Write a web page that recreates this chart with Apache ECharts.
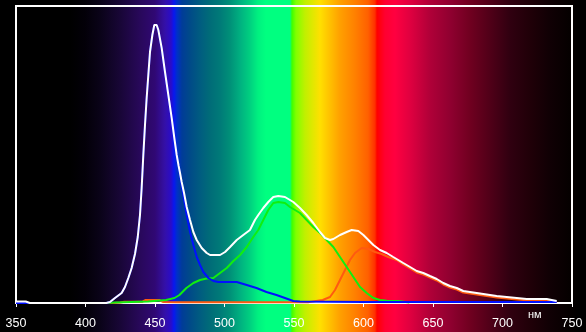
<!DOCTYPE html>
<html>
<head>
<meta charset="utf-8">
<script src="https://cdn.jsdelivr.net/npm/echarts@6/dist/echarts.min.js"></script>
<style>
html,body{margin:0;padding:0;background:#000;}
#chart{width:586px;height:332px;
background:linear-gradient(to right,
#000000 0px,#000000 70px,#030008 85px,#0a0318 100px,#180636 120px,#28085a 140px,#300874 155px,#3410a8 165px,#2a0cc8 171px,#0818f0 174px,#0030c8 177px,#003c98 182px,#004a88 190px,#005c80 200px,#006c78 210px,#007a78 220px,#009078 230px,#00b080 240px,#00d080 250px,#00f080 258px,#00ff80 266px,#00ff80 290px,#40ff00 292px,#80ff00 296px,#c0f000 305px,#ffe000 320px,#ffc000 330px,#ffa000 340px,#ff8000 355px,#ff6000 368px,#ff3000 375px,#ff0000 377px,#ff0030 385px,#ff0040 395px,#e00040 410px,#b00038 430px,#900030 450px,#700020 470px,#500018 490px,#300010 510px,#200008 530px,#100004 550px,#050000 570px,#000000 580px);}
</style>
</head>
<body>
<div id="chart"></div>
<script>
// wavelengths (nm) and intensity values per curve
const whiteNm = [350,357,360,415,417.6,421.2,426,428.4,430.8,433.2,435.6,437.6,439.2,440.4,441.6,442.8,444,445.2,446.4,448.1,449.5,451.2,452.4,454.8,457.2,459.6,462,463.9,465.6,467,468,469.2,470.9,472.8,475.2,477.6,480,483.6,487.2,489.6,496.8,500.4,504,508.8,513.5,518.3,521.9,524.3,527.9,531.5,535.1,538.7,543.5,547.1,549.5,554.3,559.1,563.9,568.7,572.3,575.9,578.3,583.1,587.9,591.5,596.3,599.9,603.5,607.1,611.9,616.7,621.4,625,628.6,633.5,638.3,643,647.8,652.7,657.4,662.2,667.1,671.8,676.6,681.4,686.2,691,695.8,703,710.2,717.4,724.6,731.8,735.4,739];
const whiteVal = [1.5,1.5,0,0,1,5,10,16,25,35,49,66,88,115,148,178,205,228,251,268,278,278,273,255,231,208,185,165,148,137,130,121,110,96,83,71,63,55,50,48,48,51,56,63,68,73,83,88,95,101,106,107,106,103,101,95,88,80,71,65,63,64,68,71,73,72,68,63,58,53,50,46,43,40,36,32,30,27,24,20,17,15,12,11,10,9,8,7,6,5,4,4,4,3,2];

const blueNm = [350,415,417.6,421.2,426,428.4,430.8,433.2,435.6,437.6,439.2,440.4,441.6,442.8,444,445.2,446.4,448.1,449.5,451.2,452.4,454.8,457.2,459.6,462,463.9,465.6,467,468,470.4,472.8,475.2,477.6,480,482.4,484.8,488.4,492,495.6,508.8,516,523,530.2,537.4,543.5,549.5,554.3,600,700,739];
const blueVal = [0,0,1,5,10,16,25,35,49,66,88,115,148,178,205,228,251,268,278,278,273,255,231,208,185,165,148,137,128,108,88,71,58,46,38,31,25,22,21,21,18,15,11,8,5,2,1.5,1,1,1];

const greenNm = [350,415,421.2,445,458,464,467.6,472.6,477.6,482.4,487.2,492,496.8,501.6,506.4,511.2,516,520.7,524.3,527.9,531.5,535.1,538.7,543.5,547.1,554.3,559.1,563.9,568.7,573.5,578.3,583.1,587.9,592.7,597.5,602.3,607.1,611.9,616.7,625,633];
const greenVal = [0,0,0.5,1.5,3,5,8,15,20,23,24.5,25,30,35,42,48,56,66,73,83,93,100,101,100,96,90,83,76,70,63,56,46,36,26,16,10,5,3,2.3,2,0.5];

const orangeNm = [350,420,425,428,441,443,453,456,465,560,565.9,570.7,575.9,579.5,583.1,586.7,590.3,593.9,598.7,603.5,608.3,613.1,617.8,623.9,628.6,633.5,638.3,643,647.8,652.7,657.4,662.2,667.1,671.8,676.6,681.4,686.2,691,695.8,703,710.2,717.4,724.6,731.8,735.4,739];
const orangeVal = [0,0,0.5,1.3,1.3,3,3,1,0.7,0.7,2,3,6,13,23,33,43,50,55,54,51,49,46,43,38.5,34.5,30.5,28.5,25.5,22.5,18.5,15.5,13.5,10.5,9.5,8.5,7.5,6.5,5.5,4.5,3.5,2.8,2.5,2.5,2,1];

const xTicks = [350,400,450,500,550,600,650,700,750];

function pairs(xs, ys){ return xs.map((x,i)=>[x, ys[i]]); }

const chart = echarts.init(document.getElementById('chart'), null, {renderer:'canvas'});
const lineStyle = (c)=>({color:c, width:2});
chart.setOption({
  backgroundColor:'transparent',
  animation:false,
  grid:{left:16,right:14,top:6,bottom:29,show:true,borderColor:'#ffffff',borderWidth:2,backgroundColor:'transparent'},
  xAxis:{type:'value',min:xTicks[0],max:xTicks[xTicks.length-1],interval:50,
    axisLine:{show:true,lineStyle:{color:'#ffffff',width:2}},
    axisTick:{show:true,inside:false,length:4,lineStyle:{color:'#ffffff',width:1}},
    axisLabel:{color:'#ffffff',fontSize:12.5,fontFamily:'Liberation Sans, Arial, sans-serif',margin:14,
      formatter:(v)=>xTicks.includes(v)?String(v):''},
    splitLine:{show:false}},
  yAxis:{type:'value',min:0,max:297,show:false,splitLine:{show:false}},
  graphic:[{type:'text',left:528,top:309,style:{text:'нм',fill:'#ffffff',fontSize:11,fontFamily:'Liberation Sans, Arial, sans-serif'}}],
  series:[
    {type:'line',data:pairs(orangeNm,orangeVal),showSymbol:false,lineStyle:lineStyle('#ff5a10'),z:2},
    {type:'line',data:pairs(greenNm,greenVal),showSymbol:false,lineStyle:lineStyle('#10ee10'),z:3},
    {type:'line',data:pairs(blueNm,blueVal),showSymbol:false,lineStyle:lineStyle('#0010ff'),z:4},
    {type:'line',data:pairs(whiteNm,whiteVal),showSymbol:false,lineStyle:lineStyle('#ffffff'),z:5}
  ]
});
</script>
</body>
</html>
